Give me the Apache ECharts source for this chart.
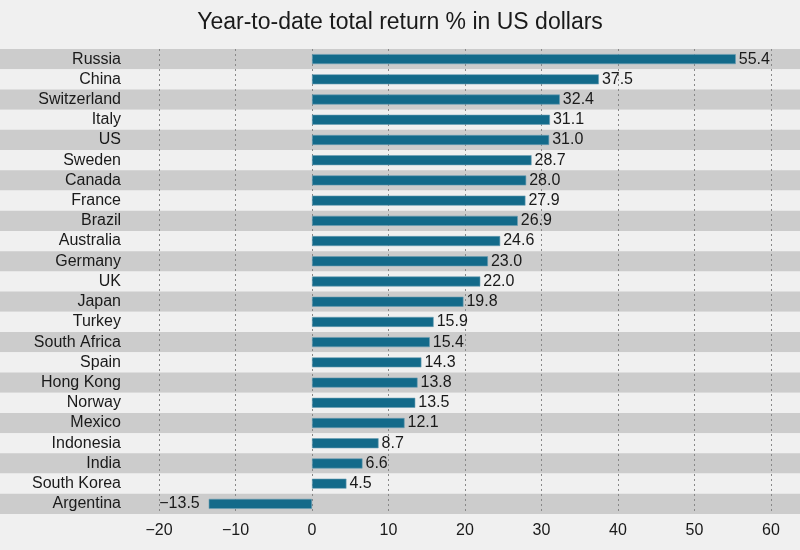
<!DOCTYPE html>
<html><head><meta charset="utf-8">
<script src="https://cdn.jsdelivr.net/npm/echarts@6/dist/echarts.min.js"></script>
<style>html,body{margin:0;padding:0;background:#f0f0f0;}#c{width:800px;height:550px;}</style>
</head><body><div id="c"></div>
<script>
const countries = ['Russia','China','Switzerland','Italy','US','Sweden','Canada','France','Brazil','Australia','Germany','UK','Japan','Turkey','South Africa','Spain','Hong Kong','Norway','Mexico','Indonesia','India','South Korea','Argentina'];
const returns = [55.4,37.5,32.4,31.1,31.0,28.7,28.0,27.9,26.9,24.6,23.0,22.0,19.8,15.9,15.4,14.3,13.8,13.5,12.1,8.7,6.6,4.5,-13.5];
const xTicks = [-20,60,10];
const titleText = 'Year-to-date total return % in US dollars';

const FONT = '"Liberation Sans", Arial, sans-serif';
const fmt = v => v.toFixed(1).replace('-', '\u2212');
const chart = echarts.init(document.getElementById('c'));
chart.setOption({
  backgroundColor: '#f0f0f0',
  animation: false,
  title: {text: titleText, left: 'center', top: 6, textStyle: {fontFamily: FONT, fontSize: 23, fontWeight: 'normal', color: '#1a1a1a'}},
  grid: [
    {left: 0, right: 0, top: 49, bottom: 36, outerBoundsMode: 'none'},
    {left: 159, right: 29, top: 49, bottom: 36, outerBoundsMode: 'none'}
  ],
  xAxis: [
    {gridIndex: 0, type: 'value', show: false, min: 0, max: 1},
    {gridIndex: 1, type: 'value', min: xTicks[0], max: xTicks[1], interval: xTicks[2],
     axisLine: {show: false}, axisTick: {show: false},
     axisLabel: {fontFamily: FONT, fontSize: 16, color: '#1a1a1a', margin: 9, formatter: v => String(v).replace('-', '\u2212')},
     splitLine: {show: true, lineStyle: {type: [2, 3], color: '#888', width: 1}}}
  ],
  yAxis: [
    {gridIndex: 0, type: 'category', data: countries, inverse: true, z: -1,
     axisLine: {show: false}, axisTick: {show: false}, axisLabel: {show: false},
     splitLine: {show: false},
     splitArea: {show: true, interval: 0, areaStyle: {color: ['#cccccc', '#f0f0f0']}}},
    {gridIndex: 1, type: 'category', data: countries, inverse: true,
     axisLine: {show: false}, axisTick: {show: false},
     axisLabel: {fontFamily: FONT, fontSize: 16, color: '#1a1a1a', margin: 38, align: 'right', interval: 0}}
  ],
  series: [{
    type: 'bar', xAxisIndex: 1, yAxisIndex: 1, barWidth: 10,
    data: returns.map(v => ({value: v, label: {position: v < 0 ? 'left' : 'right', distance: v < 0 ? 9 : 3}})),
    itemStyle: {color: '#136a8a', borderColor: '#6a9db3', borderWidth: 0.6},
    label: {show: true, fontFamily: FONT, fontSize: 16, color: '#1a1a1a', formatter: p => fmt(p.value)}
  }]
});
</script></body></html>
